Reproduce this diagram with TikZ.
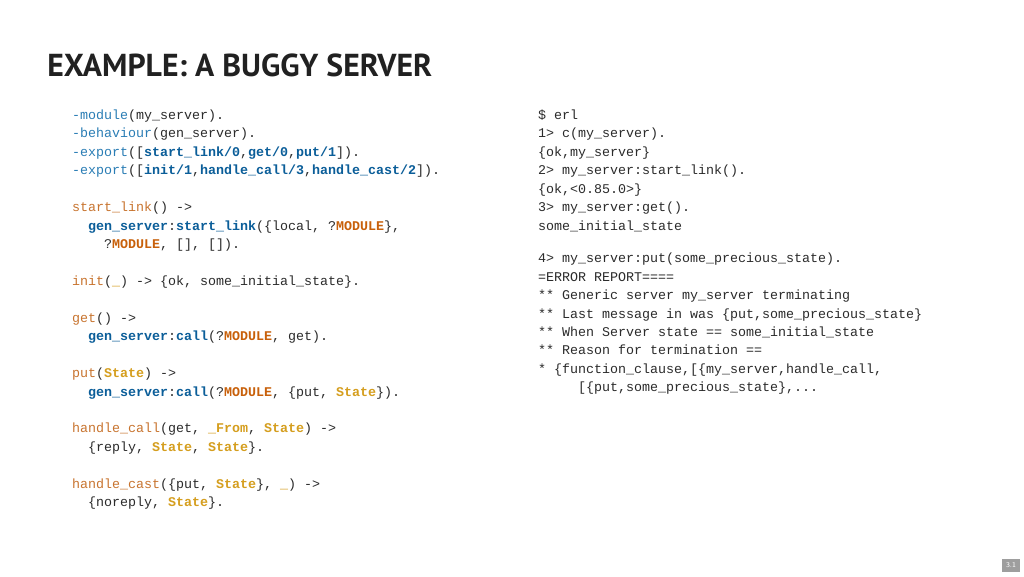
\documentclass[tikz,border=0pt]{standalone}
\usepackage{fontspec}
\setmonofont{Liberation Mono}
\newfontfamily\titlefont{PT Sans}
\usetikzlibrary{positioning}
\definecolor{codetext}{HTML}{2B2B2B}
\definecolor{attrblue}{HTML}{2A7DB5}
\definecolor{kwblue}{HTML}{0B5E99}
\definecolor{fnorange}{HTML}{C8742F}
\definecolor{macorange}{HTML}{C8600A}
\definecolor{vargold}{HTML}{D59E1E}
\newcommand\erlattr[1]{\textcolor{attrblue}{#1}}
\newcommand\erlkw[1]{\textcolor{kwblue}{\bfseries #1}}
\newcommand\erlfn[1]{\textcolor{fnorange}{#1}}
\newcommand\erlmac[1]{\textcolor{macorange}{\bfseries #1}}
\newcommand\erlvar[1]{\textcolor{vargold}{\bfseries #1}}
\tikzset{
  code/.style={anchor=base west, inner sep=0pt, outer sep=0pt, text=codetext, font=\ttfamily\fontsize{10}{12}\selectfont},
  heading/.style={anchor=base west, inner sep=0pt, text=black!87, font=\titlefont\bfseries\fontsize{23.8}{28}\selectfont},
  pagenum/.style={fill=black!38, text=white, inner sep=0pt, minimum width=13.5pt, minimum height=9.75pt, font=\sffamily\fontsize{5.5}{6}\selectfont}
}
\begin{document}
\begin{tikzpicture}[x=0.75pt, y=-0.75pt]
  \useasboundingbox[fill=white] (0,0) rectangle (1024,576);

  \node[heading] (title) at (47,76) {EXAMPLE: A BUGGY SERVER};

  % module source
  \node[code] (src1) at (72,119.5) {\erlattr{-module}(my\_server).};
  \node[code] (src2) at (72,137.9) {\erlattr{-behaviour}(gen\_server).};
  \node[code] (src3) at (72,156.4) {\erlattr{-export}([\erlkw{start\_link/0},\erlkw{get/0},\erlkw{put/1}]).};
  \node[code] (src4) at (72,174.8) {\erlattr{-export}([\erlkw{init/1},\erlkw{handle\_call/3},\erlkw{handle\_cast/2}]).};
  \node[code] (src5) at (72,211.7) {\erlfn{start\_link}() ->};
  \node[code] (src6) at (88,230.1) {\erlkw{gen\_server}:\erlkw{start\_link}(\{local, ?\erlmac{MODULE}\},};
  \node[code] (src7) at (104,248.5) {?\erlmac{MODULE}, [], []).};
  \node[code] (src8) at (72,285.4) {\erlfn{init}(\erlvar{\_}) -> \{ok, some\_initial\_state\}.};
  \node[code] (src9) at (72,322.3) {\erlfn{get}() ->};
  \node[code] (src10) at (88,340.7) {\erlkw{gen\_server}:\erlkw{call}(?\erlmac{MODULE}, get).};
  \node[code] (src11) at (72,377.5) {\erlfn{put}(\erlvar{State}) ->};
  \node[code] (src12) at (88,396.0) {\erlkw{gen\_server}:\erlkw{call}(?\erlmac{MODULE}, \{put, \erlvar{State}\}).};
  \node[code] (src13) at (72,432.8) {\erlfn{handle\_call}(get, \erlvar{\_From}, \erlvar{State}) ->};
  \node[code] (src14) at (88,451.3) {\{reply, \erlvar{State}, \erlvar{State}\}.};
  \node[code] (src15) at (72,488.1) {\erlfn{handle\_cast}(\{put, \erlvar{State}\}, \erlvar{\_}) ->};
  \node[code] (src16) at (88,506.5) {\{noreply, \erlvar{State}\}.};

  % shell session
  \node[code] (sh1) at (538,119.5) {\$ erl};
  \node[code] (sh2) at (538,137.9) {1> c(my\_server).};
  \node[code] (sh3) at (538,156.4) {\{ok,my\_server\}};
  \node[code] (sh4) at (538,174.8) {2> my\_server:start\_link().};
  \node[code] (sh5) at (538,193.2) {\{ok,<0.85.0>\}};
  \node[code] (sh6) at (538,211.7) {3> my\_server:get().};
  \node[code] (sh7) at (538,230.1) {some\_initial\_state};
  \node[code] (sh8) at (538,262.8) {4> my\_server:put(some\_precious\_state).};
  \node[code] (sh9) at (538,281.2) {=ERROR REPORT====};
  \node[code] (sh10) at (538,299.6) {** Generic server my\_server terminating};
  \node[code] (sh11) at (538,318.1) {** Last message in was \{put,some\_precious\_state\}};
  \node[code] (sh12) at (538,336.5) {** When Server state == some\_initial\_state};
  \node[code] (sh13) at (538,354.9) {** Reason for termination ==};
  \node[code] (sh14) at (538,373.4) {* \{function\_clause,[\{my\_server,handle\_call,};
  \node[code] (sh15) at (578,391.8) {[\{put,some\_precious\_state\},...};

  \node[pagenum] (slide) at (1011,565.5) {3.1};
\end{tikzpicture}
\end{document}
